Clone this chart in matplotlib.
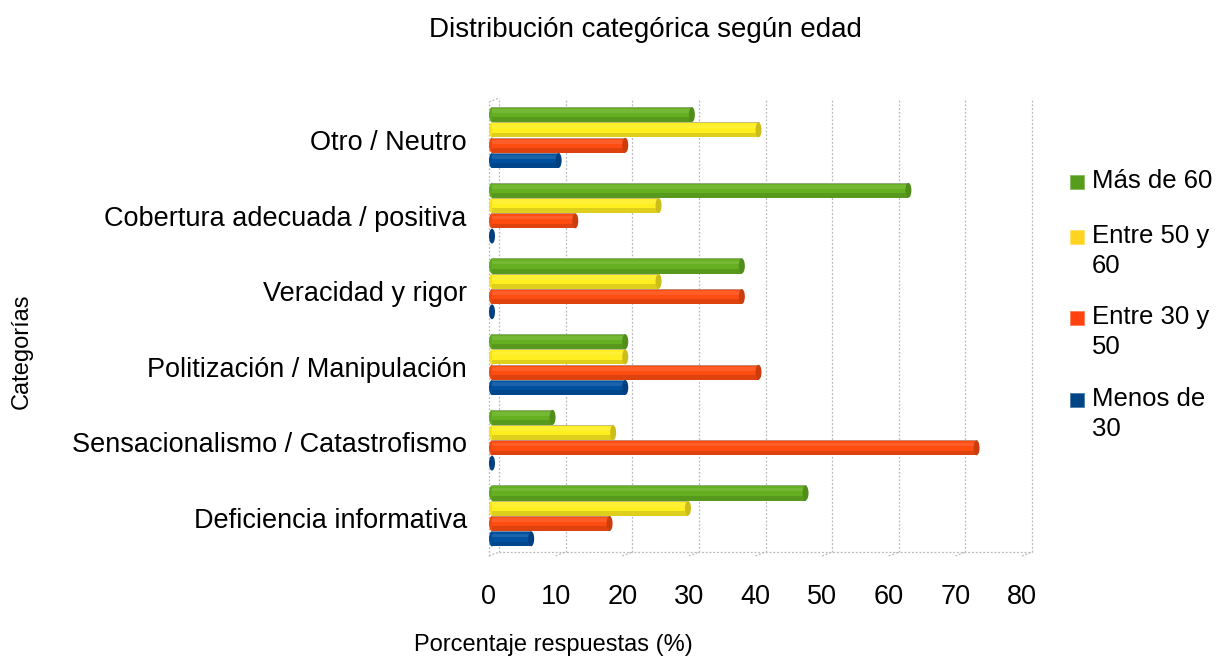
import matplotlib
matplotlib.use("Agg")
import matplotlib.pyplot as plt
from matplotlib.patches import Rectangle, Ellipse
from matplotlib.transforms import ScaledTranslation, blended_transform_factory
import matplotlib.colors as mcolors

plt.rcParams['font.family'] = ['Liberation Sans', 'DejaVu Sans']

categories = [
    "Otro / Neutro",
    "Cobertura adecuada / positiva",
    "Veracidad y rigor",
    "Politización / Manipulación",
    "Sensacionalismo / Catastrofismo",
    "Deficiencia informativa",
]
series_names = ["Más de 60", "Entre 50 y\n60", "Entre 30 y\n50", "Menos de\n30"]
mas_60 = [30.0, 62.5, 37.5, 20.0, 9.09, 47.06]
entre_50_60 = [40.0, 25.0, 25.0, 20.0, 18.18, 29.41]
entre_30_50 = [20.0, 12.5, 37.5, 40.0, 72.73, 17.65]
menos_30 = [10.0, 0.0, 0.0, 20.0, 0.0, 5.88]
x_ticks = [0, 10, 20, 30, 40, 50, 60, 70, 80]

series_values = [mas_60, entre_50_60, entre_30_50, menos_30]
bar_colors = ["#64b020", "#ffee20", "#ff4c10", "#0050a0"]
legend_colors = ["#579d1c", "#ffd320", "#ff420e", "#004586"]

DPI = 100
W, H = 1221, 657
fig = plt.figure(figsize=(W / DPI, H / DPI), dpi=DPI)

left_px, right_px = 489, 1022
top_px, bottom_px = 102, 556
ax = fig.add_axes([left_px / W, 1 - bottom_px / H,
                   (right_px - left_px) / W, (bottom_px - top_px) / H])
ax.set_xlim(0, 80)
ax.set_ylim(len(categories) - 0.5, -0.5)
for s in ax.spines.values():
    s.set_visible(False)
ax.set_facecolor("none")

# back wall sits a little right of and above the front plane
dx, dy = 10 / DPI, 4 / DPI
depth = ScaledTranslation(dx, dy, fig.dpi_scale_trans)
xfront = blended_transform_factory(ax.transData, ax.transAxes)
xback = xfront + depth
grid_color = "#b8b8b8"
grid_kw = dict(color=grid_color, lw=0.9, ls=(0, (1.5, 1.5)), clip_on=False, zorder=0)


def fig_line(p0, p1):
    fig.add_artist(plt.Line2D([p0[0] / W, p1[0] / W], [p0[1] / H, p1[1] / H],
                              transform=fig.transFigure, color=grid_color, lw=0.9,
                              ls=(0, (1.5, 1.5)), zorder=0))


for v in x_ticks:
    ax.plot([v, v], [0, 1], transform=xback, **grid_kw)
    fig_line(xfront.transform((v, 0)), xback.transform((v, 0)))
ax.plot([0, 80], [0, 0], transform=xback, **grid_kw)
# left wall edges
ax.plot([0, 0], [0, 1], transform=xfront, **grid_kw)
fig_line(xfront.transform((0, 1)), xback.transform((0, 1)))

pitch = 0.202
bar_h = 0.2
offsets = [-1.5 * pitch, -0.5 * pitch, 0.5 * pitch, 1.5 * pitch]
cap_w = 0.9
bar_tr = ax.transData + ScaledTranslation(3 / DPI, 0, fig.dpi_scale_trans)


def shade(c, f):
    r, g, b = mcolors.to_rgb(c)
    return (r * f, g * f, b * f)


def lighten(c, f):
    r, g, b = mcolors.to_rgb(c)
    return (r + (1 - r) * f, g + (1 - g) * f, b + (1 - b) * f)


for j, vals in enumerate(series_values):
    col = bar_colors[j]
    for i, v in enumerate(vals):
        y = i + offsets[j] - 0.03
        top = y - bar_h / 2
        kw = dict(transform=bar_tr, clip_on=False, edgecolor="none")
        if v > 0:
            ax.add_patch(Ellipse((0, y), cap_w, bar_h, facecolor=shade(col, 0.95),
                                 zorder=2.9, **kw))
            ax.add_patch(Rectangle((0, top), v, bar_h, facecolor=col, zorder=3, **kw))
            ax.add_patch(Rectangle((0, top + bar_h * 0.68), v, bar_h * 0.32,
                                   facecolor=shade(col, 0.87), zorder=3, **kw))
            ax.add_patch(Rectangle((0, top + bar_h * 0.15), v, bar_h * 0.25,
                                   facecolor=lighten(col, 0.1), zorder=3, **kw))
            ax.plot([0, v], [top, top], color="#a8a8a8", lw=0.5, zorder=3.5,
                    transform=bar_tr, clip_on=False)
        ax.add_patch(Ellipse((v, y), cap_w, bar_h * 0.98, facecolor=shade(col, 0.8),
                             zorder=4, **kw))

ax.set_yticks(range(len(categories)))
ax.set_yticklabels(categories, fontsize=19.5)
ax.set_xticks(x_ticks)
ax.set_xticklabels([str(t) for t in x_ticks], fontsize=19.5)
ax.tick_params(axis="both", length=0)
ax.tick_params(axis="y", pad=16)
ax.tick_params(axis="x", pad=20)

fig.text(645 / W, 1 - 30 / H, "Distribución categórica según edad",
         ha="center", va="center", fontsize=20)
fig.text(553 / W, 1 - 645 / H, "Porcentaje respuestas (%)",
         ha="center", va="center", fontsize=17)
fig.text(22 / W, 1 - 351 / H, "Categorías", rotation=90,
         ha="center", va="center", fontsize=17)

# legend
leg_y = [182, 237, 318, 400]
for name, col, yy in zip(series_names, legend_colors, leg_y):
    fig.add_artist(Rectangle((1070 / W, 1 - (yy + 7) / H), 14 / W, 14 / H,
                             transform=fig.transFigure, facecolor=col,
                             edgecolor=lighten(col, 0.3), lw=0.6))
    fig.text(1092 / W, 1 - (yy - 13) / H, name, ha="left", va="top",
             fontsize=18.5, linespacing=1.3)

fig.savefig("out.png", dpi=DPI)
